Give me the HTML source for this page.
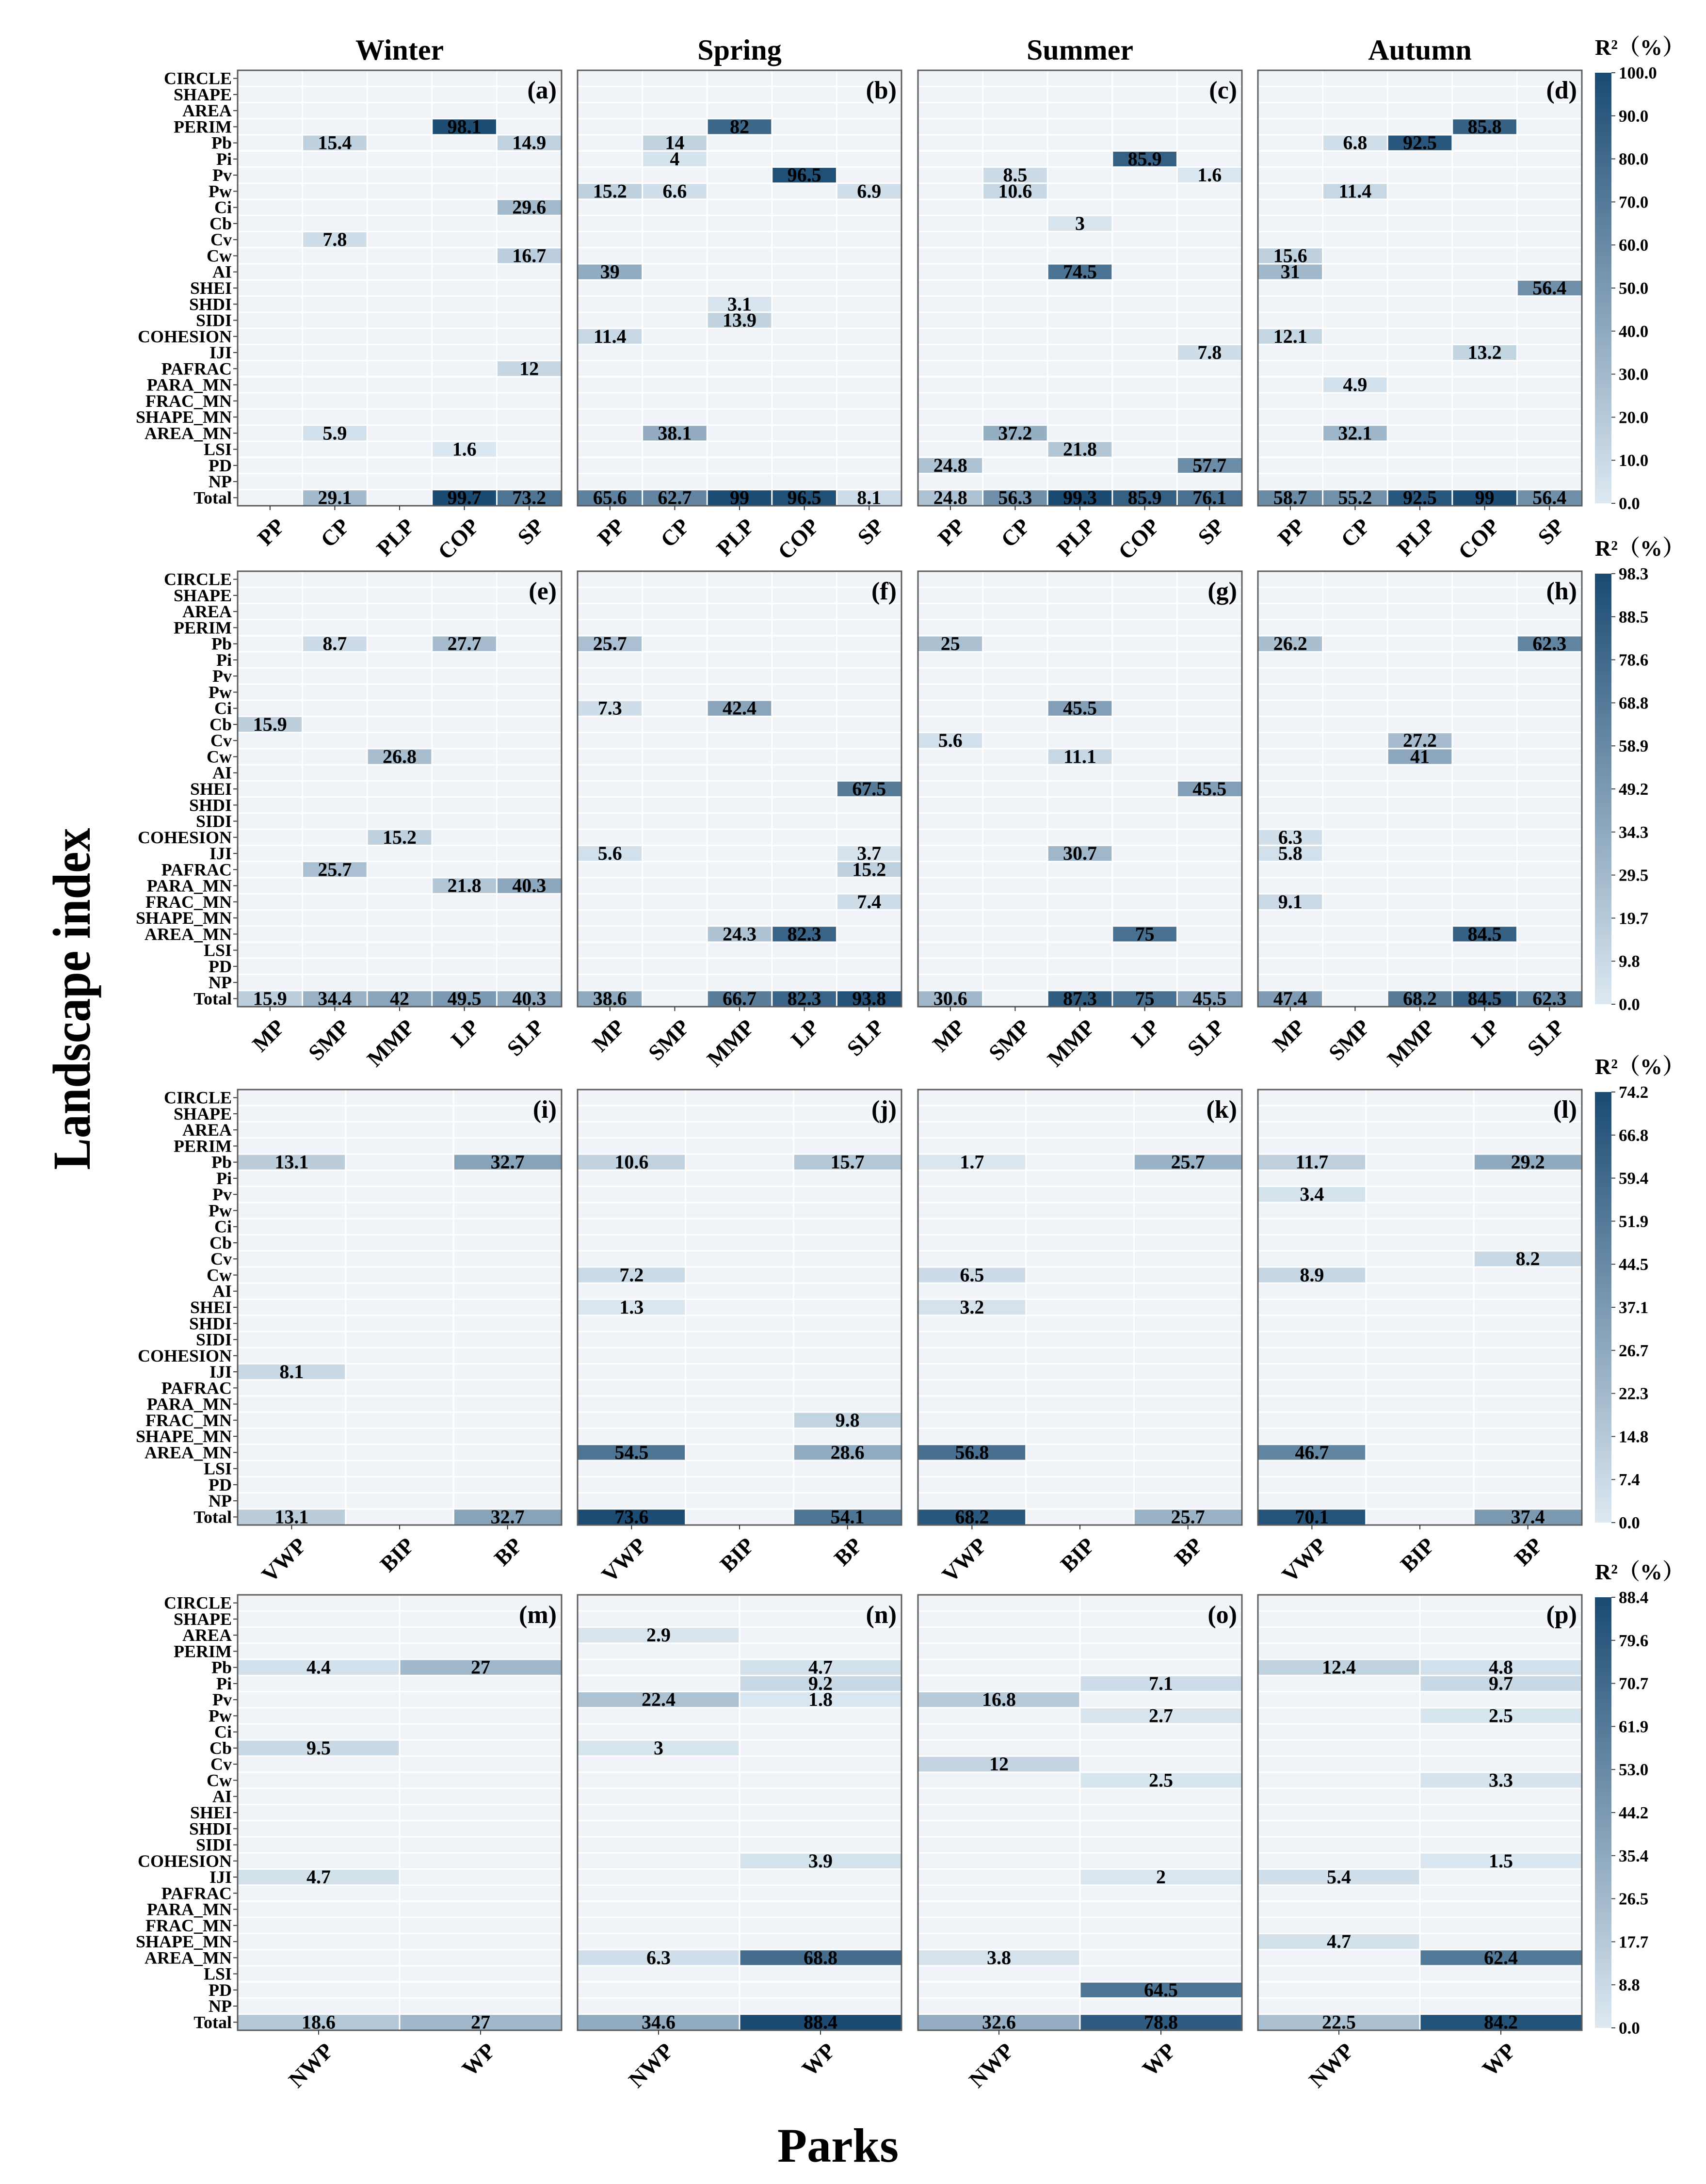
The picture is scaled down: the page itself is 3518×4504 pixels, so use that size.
<!DOCTYPE html>
<html><head><meta charset="utf-8">
<style>
html,body{margin:0;padding:0;background:#fff;}
svg{display:block;}
text{font-family:"Liberation Serif","Noto Serif CJK SC",serif;font-weight:bold;fill:#000;}
</style></head>
<body>
<svg id="chart" xmlns="http://www.w3.org/2000/svg" width="3518" height="4504" viewBox="0 0 3518 4504">
<defs>
<linearGradient id="cbgrad" x1="0" y1="1" x2="0" y2="0">
<stop offset="0" stop-color="#dde9f2"/><stop offset="1" stop-color="#1a4a72"/>
</linearGradient>
</defs>
</svg>
<script>
const rowLabels = ['CIRCLE','SHAPE','AREA','PERIM','Pb','Pi','Pv','Pw','Ci','Cb','Cv','Cw','AI','SHEI','SHDI','SIDI','COHESION','IJI','PAFRAC','PARA_MN','FRAC_MN','SHAPE_MN','AREA_MN','LSI','PD','NP','Total'];
const seasons = ['Winter','Spring','Summer','Autumn'];
const groupParks = [
  ['PP','CP','PLP','COP','SP'],
  ['MP','SMP','MMP','LP','SLP'],
  ['VWP','BIP','BP'],
  ['NWP','WP']
];
const groupMax = [100, 98.3, 74.2, 88.4];
const colorbarTicks = [
  ['0.0','10.0','20.0','30.0','40.0','50.0','60.0','70.0','80.0','90.0','100.0'],
  ['0.0','9.8','19.7','29.5','34.3','49.2','58.9','68.8','78.6','88.5','98.3'],
  ['0.0','7.4','14.8','22.3','26.7','37.1','44.5','51.9','59.4','66.8','74.2'],
  ['0.0','8.8','17.7','26.5','35.4','44.2','53.0','61.9','70.7','79.6','88.4']
];
const panelLetters = ['a','b','c','d','e','f','g','h','i','j','k','l','m','n','o','p'];
// cells: [index, park, value]
const cellsA = [['PERIM','COP',98.1],['Pb','CP',15.4],['Pb','SP',14.9],['Ci','SP',29.6],['Cv','CP',7.8],['Cw','SP',16.7],['PAFRAC','SP',12],['AREA_MN','CP',5.9],['LSI','COP',1.6],['Total','CP',29.1],['Total','COP',99.7],['Total','SP',73.2]];
const cellsB = [['PERIM','PLP',82],['Pb','CP',14],['Pi','CP',4],['Pv','COP',96.5],['Pw','PP',15.2],['Pw','CP',6.6],['Pw','SP',6.9],['AI','PP',39],['SHDI','PLP',3.1],['SIDI','PLP',13.9],['COHESION','PP',11.4],['AREA_MN','CP',38.1],['Total','PP',65.6],['Total','CP',62.7],['Total','PLP',99],['Total','COP',96.5],['Total','SP',8.1]];
const cellsC = [['Pi','COP',85.9],['Pv','CP',8.5],['Pv','SP',1.6],['Pw','CP',10.6],['Cb','PLP',3],['AI','PLP',74.5],['IJI','SP',7.8],['AREA_MN','CP',37.2],['LSI','PLP',21.8],['PD','PP',24.8],['PD','SP',57.7],['Total','PP',24.8],['Total','CP',56.3],['Total','PLP',99.3],['Total','COP',85.9],['Total','SP',76.1]];
const cellsD = [['PERIM','COP',85.8],['Pb','CP',6.8],['Pb','PLP',92.5],['Pw','CP',11.4],['Cw','PP',15.6],['AI','PP',31],['SHEI','SP',56.4],['COHESION','PP',12.1],['IJI','COP',13.2],['PARA_MN','CP',4.9],['AREA_MN','CP',32.1],['Total','PP',58.7],['Total','CP',55.2],['Total','PLP',92.5],['Total','COP',99],['Total','SP',56.4]];
const cellsE = [['Pb','SMP',8.7],['Pb','LP',27.7],['Cb','MP',15.9],['Cw','MMP',26.8],['COHESION','MMP',15.2],['PAFRAC','SMP',25.7],['PARA_MN','LP',21.8],['PARA_MN','SLP',40.3],['Total','MP',15.9],['Total','SMP',34.4],['Total','MMP',42],['Total','LP',49.5],['Total','SLP',40.3]];
const cellsF = [['Pb','MP',25.7],['Ci','MP',7.3],['Ci','MMP',42.4],['SHEI','SLP',67.5],['IJI','MP',5.6],['IJI','SLP',3.7],['PAFRAC','SLP',15.2],['FRAC_MN','SLP',7.4],['AREA_MN','MMP',24.3],['AREA_MN','LP',82.3],['Total','MP',38.6],['Total','MMP',66.7],['Total','LP',82.3],['Total','SLP',93.8]];
const cellsG = [['Pb','MP',25],['Ci','MMP',45.5],['Cv','MP',5.6],['Cw','MMP',11.1],['SHEI','SLP',45.5],['IJI','MMP',30.7],['AREA_MN','LP',75],['Total','MP',30.6],['Total','MMP',87.3],['Total','LP',75],['Total','SLP',45.5]];
const cellsH = [['Pb','MP',26.2],['Pb','SLP',62.3],['Cv','MMP',27.2],['Cw','MMP',41],['COHESION','MP',6.3],['IJI','MP',5.8],['FRAC_MN','MP',9.1],['AREA_MN','LP',84.5],['Total','MP',47.4],['Total','MMP',68.2],['Total','LP',84.5],['Total','SLP',62.3]];
const cellsI = [['Pb','VWP',13.1],['Pb','BP',32.7],['IJI','VWP',8.1],['Total','VWP',13.1],['Total','BP',32.7]];
const cellsJ = [['Pb','VWP',10.6],['Pb','BP',15.7],['Cw','VWP',7.2],['SHEI','VWP',1.3],['FRAC_MN','BP',9.8],['AREA_MN','VWP',54.5],['AREA_MN','BP',28.6],['Total','VWP',73.6],['Total','BP',54.1]];
const cellsK = [['Pb','VWP',1.7],['Pb','BP',25.7],['Cw','VWP',6.5],['SHEI','VWP',3.2],['AREA_MN','VWP',56.8],['Total','VWP',68.2],['Total','BP',25.7]];
const cellsL = [['Pb','VWP',11.7],['Pb','BP',29.2],['Pv','VWP',3.4],['Cv','BP',8.2],['Cw','VWP',8.9],['AREA_MN','VWP',46.7],['Total','VWP',70.1],['Total','BP',37.4]];
const cellsM = [['Pb','NWP',4.4],['Pb','WP',27],['Cb','NWP',9.5],['IJI','NWP',4.7],['Total','NWP',18.6],['Total','WP',27]];
const cellsN = [['AREA','NWP',2.9],['Pb','WP',4.7],['Pi','WP',9.2],['Pv','NWP',22.4],['Pv','WP',1.8],['Cb','NWP',3],['COHESION','WP',3.9],['AREA_MN','NWP',6.3],['AREA_MN','WP',68.8],['Total','NWP',34.6],['Total','WP',88.4]];
const cellsO = [['Pi','WP',7.1],['Pv','NWP',16.8],['Pw','WP',2.7],['Cv','NWP',12],['Cw','WP',2.5],['IJI','WP',2],['AREA_MN','NWP',3.8],['PD','WP',64.5],['Total','NWP',32.6],['Total','WP',78.8]];
const cellsP = [['Pb','NWP',12.4],['Pb','WP',4.8],['Pi','WP',9.7],['Pw','WP',2.5],['Cw','WP',3.3],['COHESION','WP',1.5],['IJI','NWP',5.4],['SHAPE_MN','NWP',4.7],['AREA_MN','WP',62.4],['Total','NWP',22.5],['Total','WP',84.2]];
const panelCells = [cellsA,cellsB,cellsC,cellsD,cellsE,cellsF,cellsG,cellsH,cellsI,cellsJ,cellsK,cellsL,cellsM,cellsN,cellsO,cellsP];

const svg = document.getElementById('chart');
const NS = 'http://www.w3.org/2000/svg';
function mk(tag, attrs, parent){ const e=document.createElementNS(NS,tag); for(const k in attrs) e.setAttribute(k,attrs[k]); (parent||svg).appendChild(e); return e; }
function txt(s, attrs, parent){ const e=mk('text',attrs,parent); e.textContent=s; return e; }

const rowTops = [145,1178,2247,3289];
const colLefts = [490,1191,1893,2594];
const panelW = 668, panelH = 898;
const rowH = panelH / rowLabels.length;
const lo=[221,233,242], hi=[26,74,114];
function color(v,max){ const t=Math.max(0,Math.min(1,v/max)); const c=lo.map((l,i)=>Math.round(l+(hi[i]-l)*t)); return 'rgb('+c.join(',')+')'; }
function yScale(r, rowLabel){ return r + rowLabels.indexOf(rowLabel)*rowH; }

// season titles
seasons.forEach((s,i)=>{
  const t = txt(s,{x:colLefts[i]+panelW/2,y:123,'text-anchor':'middle','font-size':60});
  
  
});

let pi = 0;
groupParks.forEach((parks,g)=>{
  const top = rowTops[g];
  const cw = panelW/parks.length;
  const xScale = (left,p)=> left + parks.indexOf(p)*cw;
  // row labels
  rowLabels.forEach((lab,r)=>{
    const cy = top + (r+0.5)*rowH;
    const t = txt(lab,{x:478,y:cy+12,'text-anchor':'end','font-size':36});
    
    
    mk('line',{x1:481,x2:490,y1:cy,y2:cy,stroke:'#333','stroke-width':2});
  });
  for(let s=0;s<4;s++){
    const left = colLefts[s];
    const gp = mk('g',{});
    
    
    // background tiles
    rowLabels.forEach((lab,r)=>{
      parks.forEach((p,c)=>{
        mk('rect',{x:left+c*cw+1.5,y:top+r*rowH+1.5,width:cw-3,height:rowH-3,fill:'#f0f4f8'},gp);
      });
    });
    // data tiles
    panelCells[pi].forEach(d=>{
      const x = xScale(left,d[1]), y = yScale(top,d[0]);
      const rc = mk('rect',{x:x+1.5,y:y+1.5,width:cw-3,height:rowH-3,fill:color(d[2],groupMax[g])},gp);
      
      
      const t = txt(String(d[2]),{x:x+cw/2,y:y+rowH/2+13,'text-anchor':'middle','font-size':40},gp);
      
      
    });
    mk('rect',{x:left,y:top,width:panelW,height:panelH,fill:'none',stroke:'#5c5c5c','stroke-width':3},gp);
    const pl = txt('('+panelLetters[pi]+')',{x:left+panelW-10,y:top+58,'text-anchor':'end','font-size':52},gp);
    
    
    // x ticks
    parks.forEach((p,c)=>{
      const cx = xScale(left,p)+cw/2, by = top+panelH;
      mk('line',{x1:cx,x2:cx,y1:by,y2:by+9,stroke:'#333','stroke-width':2},gp);
      const t = txt(p,{'text-anchor':'end','font-size':46,transform:'translate('+(cx+33)+','+(by+45)+') rotate(-45)'},gp);
      
      
    });
    pi++;
  }
  // colorbar
  const cbx=3289, cbw=34, cbt=top+5, cbb=top+panelH-5;
  const cb = mk('rect',{x:cbx,y:cbt,width:cbw,height:cbb-cbt,fill:'url(#cbgrad)'});
  
  
  colorbarTicks[g].forEach((lab,i)=>{
    const yy = cbb - (i/10)*(cbb-cbt);
    mk('line',{x1:cbx+cbw,x2:cbx+cbw+8,y1:yy,y2:yy,stroke:'#444','stroke-width':2});
    const t = txt(lab,{x:3338,y:yy+12,'font-size':35});
    
    
  });
  const rt = txt('R²（%）',{x:3289,y:top-32,'font-size':46});
  
  
});

const yt = txt('Landscape index',{'text-anchor':'middle','font-size':110,textLength:705,lengthAdjust:'spacingAndGlyphs',transform:'translate(185,2060) rotate(-90)'});


const xt = txt('Parks',{x:1728,y:4458,'text-anchor':'middle','font-size':100});


</script>
</body></html>
